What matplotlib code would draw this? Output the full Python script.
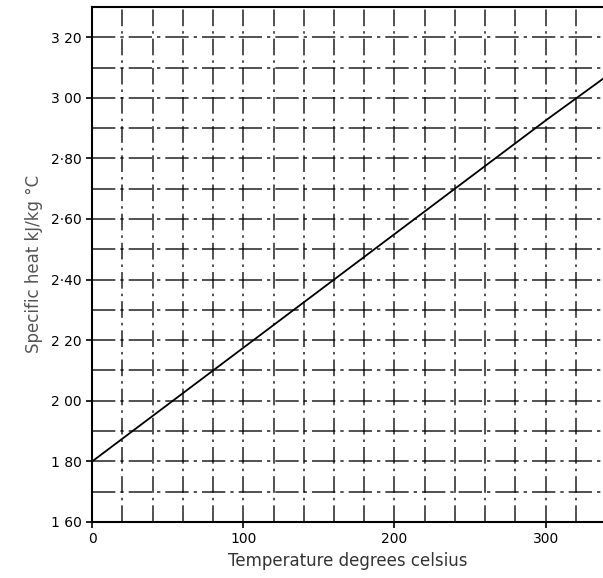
import numpy as np
import matplotlib.pyplot as plt

# data
temp = [0, 100, 200, 300, 340]
spec_heat = [1.80, 2.175, 2.55, 2.925, 3.07]

x_ticks = [0, 100, 200, 300]
x_labels = ["0", "100", "200", "300"]
y_ticks = [1.6, 1.8, 2.0, 2.2, 2.4, 2.6, 2.8, 3.0, 3.2]
y_labels = ["1 60", "1 80", "2 00", "2 20", "2·40", "2·60", "2·80", "3 00", "3 20"]

fig = plt.figure(figsize=(6.03, 5.78), dpi=100)
ax = fig.add_axes([0.153, 0.097, 0.847, 0.891])

# grid (scanned graph paper look)
for gx in np.arange(20, 340, 20):
    ax.axvline(gx, color='black', lw=1.2, ls=(0, (10, 3, 1.5, 3)), alpha=0.8, zorder=1)
for gy in np.arange(1.7, 3.31, 0.1):
    ax.axhline(gy, color='black', lw=1.2, ls=(0, (14, 3, 2, 3)), alpha=0.8, zorder=1)

ax.plot(temp, spec_heat, color='black', lw=1.3, zorder=3)

ax.set_xlim(0, 338)
ax.set_ylim(1.6, 3.3)
ax.set_xticks(x_ticks)
ax.set_xticklabels(x_labels, fontsize=10, color='#222222')
ax.set_yticks(y_ticks)
ax.set_yticklabels(y_labels, fontsize=10, color='#222222')
ax.tick_params(direction='out', length=4, width=1.2, colors='black')

for s in ['left', 'bottom', 'top']:
    ax.spines[s].set_linewidth(1.5)
ax.spines['right'].set_visible(False)

ax.set_xlabel("Temperature degrees celsius", fontsize=12, labelpad=4, color='#333333')
ax.set_ylabel("Specific heat kJ/kg °C", fontsize=12, labelpad=6, color='#555555')

fig.savefig("out.png", dpi=100)
